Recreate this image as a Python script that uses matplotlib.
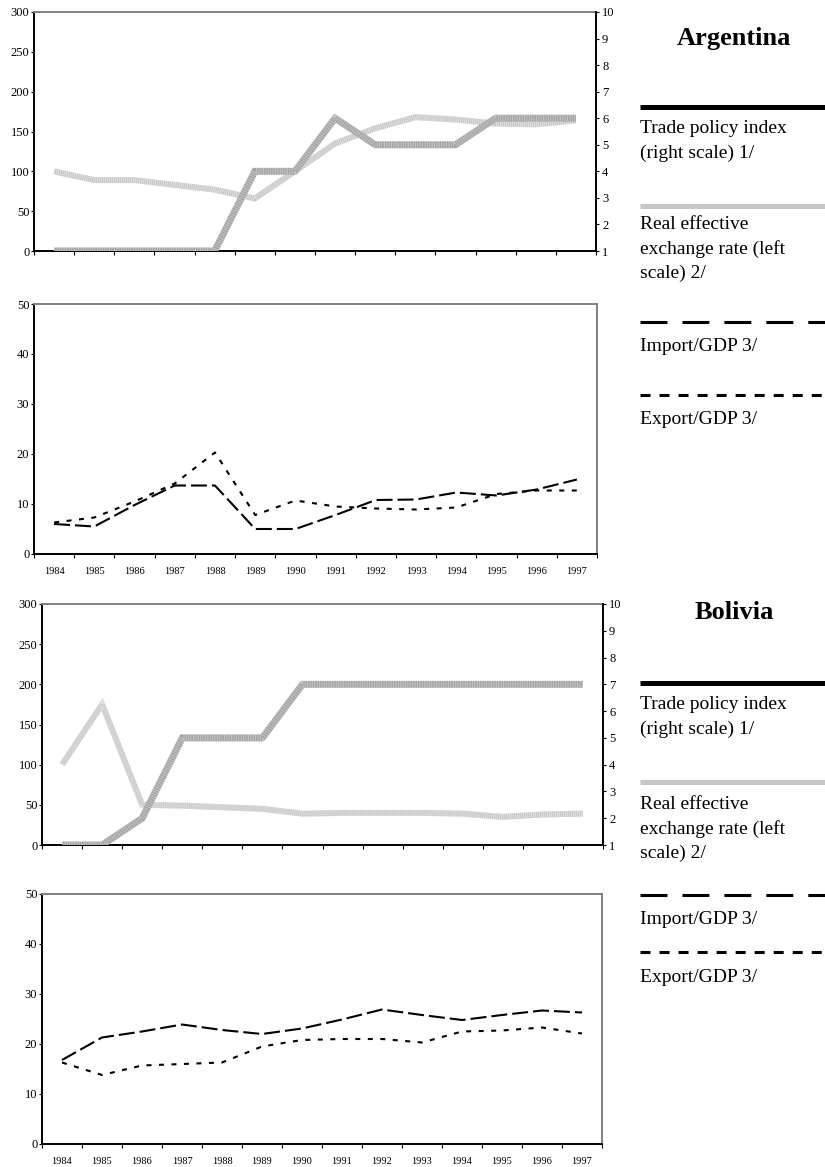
import numpy as np
import matplotlib
matplotlib.use("Agg")
import matplotlib.pyplot as plt
from matplotlib.lines import Line2D

# ---- data -------------------------------------------------------------
years = list(range(1984, 1998))

arg_trade_index = [1, 1, 1, 1, 1, 4, 4, 6, 5, 5, 5, 6, 6, 6]
arg_reer = [100, 89, 89, 83, 77, 66, 100, 135, 154, 168, 165, 160, 159, 164]
arg_import_gdp = [6.0, 5.5, 9.8, 13.7, 13.7, 5.0, 5.0, 7.8, 10.8, 10.9, 12.3, 11.7, 12.9, 14.9]
arg_export_gdp = [6.3, 7.3, 10.5, 14.1, 20.3, 7.8, 10.7, 9.5, 9.1, 8.9, 9.3, 12.0, 12.7, 12.7]

bol_trade_index = [1, 1, 2, 5, 5, 5, 7, 7, 7, 7, 7, 7, 7, 7]
bol_reer = [100, 175, 50, 49, 47, 45, 39, 40, 40, 40, 39, 35, 38, 39]
bol_import_gdp = [16.8, 21.3, 22.5, 23.9, 22.8, 22.0, 23.1, 24.9, 26.9, 25.8, 24.8, 25.8, 26.7, 26.3]
bol_export_gdp = [16.3, 13.8, 15.7, 16.0, 16.3, 19.5, 20.8, 21.0, 21.0, 20.3, 22.5, 22.7, 23.3, 22.1]

legend_labels = [
    ["Trade policy index", "(right scale) 1/"],
    ["Real effective", "exchange rate (left", "scale) 2/"],
    ["Import/GDP 3/"],
    ["Export/GDP 3/"],
]

# ---- styling ----------------------------------------------------------
W, H = 825, 1167
plt.rcParams["font.family"] = ["Liberation Serif", "DejaVu Serif"]
plt.rcParams["lines.scale_dashes"] = False

TRADE_COLOR = "#a4a4a4"
REER_COLOR = "#c6c6c6"
FRAME_GRAY = "#808080"
IMPORT_DASH = (11.5, 3.6)
EXPORT_DASH = (3.6, 5.4)

fig = plt.figure(figsize=(W / 100, H / 100), dpi=100)


def rect(left, top, right, bottom):
    return [left / W, 1 - bottom / H, (right - left) / W, (bottom - top) / H]


def fy(y):
    return 1 - y / H


def frame(ax, right_visible, right_color):
    ax.spines["left"].set_color("black")
    ax.spines["left"].set_linewidth(1.4)
    ax.spines["bottom"].set_color("black")
    ax.spines["bottom"].set_linewidth(1.4)
    ax.spines["top"].set_color(FRAME_GRAY)
    ax.spines["top"].set_linewidth(1.4)
    ax.spines["right"].set_visible(right_visible)
    ax.spines["right"].set_color(right_color)
    ax.spines["right"].set_linewidth(1.4)


def category_axis(ax, labels):
    n = len(years)
    ax.set_xlim(-0.5, n - 0.5)
    ax.set_xticks(np.arange(-0.5, n, 1.0))
    ax.set_xticklabels([])
    ax.tick_params(axis="x", which="major", direction="out", length=3, width=0.8, color="black")
    if labels:
        ax.set_xticks(np.arange(n), minor=True)
        ax.set_xticklabels([str(y) for y in years], minor=True, fontsize=7.5)
        ax.tick_params(axis="x", which="minor", length=0, pad=9)


def textured(ax, x, y, base, lw, pattern, alpha):
    """Thick grey line with a fine white pattern laid over it."""
    ax.plot(x, y, color=base, lw=lw, solid_capstyle="butt", solid_joinstyle="miter")
    ax.plot(x, y, color="white", lw=lw, dashes=pattern, alpha=alpha,
            dash_capstyle="butt", dash_joinstyle="miter")


def top_panel(box, reer, trade):
    x = np.arange(len(years))
    ax = fig.add_axes(rect(*box))
    textured(ax, x, reer, REER_COLOR, 4.3, (0.72, 0.72), 0.45)
    ax.set_ylim(0, 300)
    ax.set_yticks(range(0, 301, 50))
    ax.tick_params(axis="y", direction="out", length=2.4, width=0.8, pad=1, labelsize=9)
    category_axis(ax, False)
    frame(ax, False, "black")

    ax2 = ax.twinx()
    textured(ax2, x, trade, TRADE_COLOR, 5, (0.72, 1.0), 0.35)
    ax2.set_ylim(1, 10)
    ax2.set_yticks(range(1, 11))
    ax2.tick_params(axis="y", direction="out", length=2.4, width=0.8, pad=2, labelsize=9)
    for side in ("left", "bottom", "top"):
        ax2.spines[side].set_visible(False)
    ax2.spines["right"].set_color("black")
    ax2.spines["right"].set_linewidth(1.4)
    return ax, ax2


def bottom_panel(box, imp, exp):
    x = np.arange(len(years))
    ax = fig.add_axes(rect(*box))
    ax.plot(x, imp, color="black", lw=1.5, dashes=IMPORT_DASH, dash_capstyle="butt")
    ax.plot(x, exp, color="black", lw=1.5, dashes=EXPORT_DASH, dash_capstyle="butt")
    ax.set_ylim(0, 50)
    ax.set_yticks(range(0, 51, 10))
    ax.tick_params(axis="y", direction="out", length=2.4, width=0.8, pad=1, labelsize=9)
    category_axis(ax, True)
    frame(ax, True, FRAME_GRAY)
    return ax


def legend_block(title, title_y, line_ys, text_baselines):
    fig.text(734 / W, fy(title_y), title, ha="center", va="baseline",
             fontsize=19, fontweight="bold")
    styles = [
        dict(color="black", lw=3.6),
        dict(color="#c8c8c8", lw=3.6),
        dict(color="black", lw=2.2, dashes=(19.4, 10.8)),
        dict(color="black", lw=2.2, dashes=(7.2, 6.5)),
    ]
    for ly, st, lines, base in zip(line_ys, styles, legend_labels, text_baselines):
        fig.add_artist(Line2D([640 / W, 1.0], [fy(ly), fy(ly)], transform=fig.transFigure,
                              solid_capstyle="butt", dash_capstyle="butt", **st))
        for i, txt in enumerate(lines):
            fig.text(640 / W, fy(base + i * 24.3), txt, ha="left", va="baseline", fontsize=14)


# ---- Argentina --------------------------------------------------------
top_panel((34, 12, 596, 251), arg_reer, arg_trade_index)
bottom_panel((34, 304, 597, 554), arg_import_gdp, arg_export_gdp)
legend_block("Argentina", 45, [106.7, 205.8, 321.7, 395.3], [133.3, 229.3, 350.7, 424.5])

# ---- Bolivia ----------------------------------------------------------
top_panel((42, 604, 603, 845), bol_reer, bol_trade_index)
bottom_panel((42, 894, 602, 1144), bol_import_gdp, bol_export_gdp)
legend_block("Bolivia", 619.3, [682.7, 781.7, 895.0, 951.7], [709.3, 809.3, 924.0, 981.7])

fig.savefig("out.png", dpi=100)
